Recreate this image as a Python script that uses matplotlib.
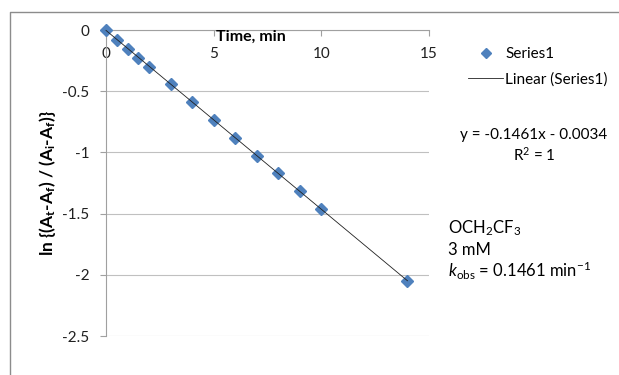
import numpy as np
import matplotlib
matplotlib.use('Agg')
import matplotlib.pyplot as plt
from matplotlib.lines import Line2D

plt.rcParams['font.family'] = ['Lato', 'DejaVu Sans']
plt.rcParams['mathtext.fontset'] = 'custom'
plt.rcParams['mathtext.rm'] = 'Lato'
plt.rcParams['mathtext.it'] = 'Lato:italic'
plt.rcParams['mathtext.bf'] = 'Lato:bold'

# data
time_min = [0, 0.5, 1, 1.5, 2, 3, 4, 5, 6, 7, 8, 9, 10, 14]
ln_ratio = [0, -0.08, -0.155, -0.23, -0.30, -0.445, -0.59, -0.735, -0.88,
            -1.028, -1.172, -1.315, -1.465, -2.048]
slope = -0.1461
intercept = -0.0034
x_ticks = [0, 5, 10, 15]
y_ticks = [0, -0.5, -1, -1.5, -2, -2.5]

W, H = 619, 375
fig = plt.figure(figsize=(W / 100, H / 100), dpi=100)
ax = fig.add_axes([106 / W, 1 - 336 / H, (429 - 106) / W, (336 - 30) / H])

ax.plot(time_min, ln_ratio, ls='none', marker='D', ms=6.6, color='#4F81BD',
        label='Series1', zorder=3, clip_on=False)
xfit = np.array([min(time_min), max(time_min)])
ax.plot(xfit, slope * xfit + intercept, color='#202020', lw=0.6,
        label='Linear (Series1)', zorder=4, clip_on=False)

ax.set_xlim(0, 15)
ax.set_ylim(-2.5, 0)
ax.set_xticks(x_ticks)
ax.set_xticklabels([str(v) for v in x_ticks])
ax.set_yticks(y_ticks)
ax.set_yticklabels(['0', '-0.5', '-1', '-1.5', '-2', '-2.5'])

for s in ['right', 'top']:
    ax.spines[s].set_visible(False)
ax.spines['bottom'].set_position(('data', 0))
ax.spines['bottom'].set_color('#A0A0A0')
ax.spines['left'].set_color('#A0A0A0')
ax.tick_params(axis='both', direction='out', length=4, width=0.8,
               color='#A0A0A0', labelsize=11, labelcolor='#202020')
ax.tick_params(axis='x', pad=8)
ax.tick_params(axis='y', pad=8)
ax.yaxis.grid(True, color='#C0C0C0', lw=0.8)
ax.set_axisbelow(True)

ax.text(0.449, 0.977, 'Time, min', transform=ax.transAxes, ha='center',
        va='center', fontsize=11.5, fontweight='bold')
fig.text(48 / W, 1 - 183 / H,
         r'ln {(A$_\mathbf{t}$-A$_\mathbf{f}$) / (A$_\mathbf{i}$-A$_\mathbf{f}$)}',
         rotation=90, ha='center', va='center', fontsize=12.5, fontweight='bold')

leg = ax.legend(loc='upper left', bbox_to_anchor=(468 / W, 1 - 47 / H),
                bbox_transform=fig.transFigure, frameon=False, fontsize=11,
                handlelength=2.3, handletextpad=0.15, labelspacing=0.75,
                borderpad=0, borderaxespad=0, markerscale=0.7)

fig.text(534 / W, 1 - 146 / H, 'y = -0.1461x - 0.0034\nR$^2$ = 1',
         ha='center', va='center', fontsize=11, multialignment='center',
         linespacing=1.3)

fig.text(448 / W, 1 - 228 / H, 'OCH$_2$CF$_3$', ha='left', va='center', fontsize=12)
fig.text(448 / W, 1 - 250 / H, '3 mM', ha='left', va='center', fontsize=12)
fig.text(448 / W, 1 - 271 / H, r'$k$$_{\rm obs}$ = 0.1461 min$^{-1}$',
         ha='left', va='center', fontsize=12)

# chart border (only left and top edges are in frame)
fig.add_artist(Line2D([9.5 / W, 9.5 / W, 1], [0, 1 - 11.5 / H, 1 - 11.5 / H],
                      transform=fig.transFigure, color='#8C8C8C', lw=1))

fig.savefig('out.png', dpi=100)
